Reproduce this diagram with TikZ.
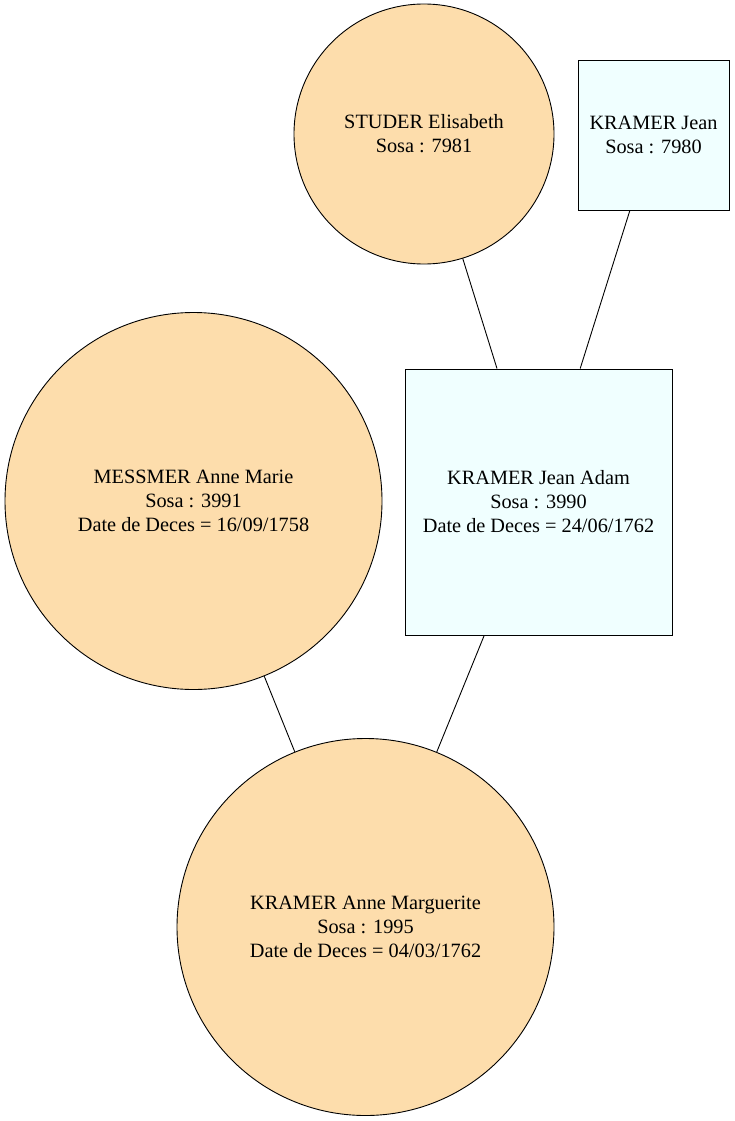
\documentclass[tikz,border=0pt]{standalone}
\usepackage{fontspec}
\setmainfont{Liberation Serif}
\definecolor{femmefill}{HTML}{FDDDAC}
\definecolor{hommefill}{HTML}{F0FFFF}
\tikzset{
  femme/.style={circle, draw, fill=femmefill, inner sep=0pt, align=center},
  homme/.style={rectangle, draw, fill=hommefill, inner sep=0pt, align=center}
}
\begin{document}
\begin{tikzpicture}[x=1pt, y=-1pt, line width=0.9pt, font=\fontsize{20.3}{24}\selectfont]
                \useasboundingbox (0,0) rectangle (735,1121);
                % ascendants
                \node[femme, minimum size=260pt] (studer) at (424,134) {STUDER Elisabeth\\Sosa : 7981};
                \node[homme, minimum width=151pt, minimum height=150pt] (kramerjean) at (653.5,135) {KRAMER Jean\\Sosa : 7980};
                % parents
                \node[femme, minimum size=377pt] (messmer) at (193.5,501) {MESSMER Anne Marie\\Sosa : 3991\\Date de Deces = 16/09/1758};
                \node[homme, minimum width=267pt, minimum height=266pt] (jeanadam) at (538.5,502) {KRAMER Jean Adam\\Sosa : 3990\\Date de Deces = 24/06/1762};
                % enfant
                \node[femme, minimum size=377pt] (marguerite) at (365.5,927) {KRAMER Anne Marguerite\\Sosa : 1995\\Date de Deces = 04/03/1762};
                % liens
                \draw (studer) -- (jeanadam);
                \draw (kramerjean) -- (jeanadam);
                \draw (messmer) -- (marguerite);
                \draw (jeanadam) -- (marguerite);
            \end{tikzpicture}
\end{document}
